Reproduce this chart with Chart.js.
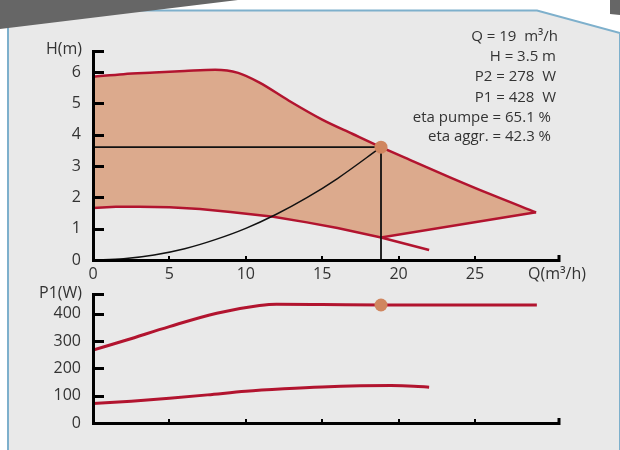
<!DOCTYPE html>
<html lang="en">
<head>
<meta charset="UTF-8">
<title>Pump curve</title>
<style>
  body { margin: 0; background: #fff; }
  #wrap { position: relative; width: 620px; height: 450px; overflow: hidden; }
  #bg, #headChart, #powerChart { position: absolute; left: 0; }
  #bg { top: 0; }
  #headChart { top: 0; }
  #powerChart { top: 271px; }
</style>
</head>
<body>
<div id="wrap">
  <svg id="bg" width="620" height="450">
    <polygon points="8,10.5 537,10.5 620,33 620,452 8,452" fill="#e9e9e9" stroke="#7eb0cc" stroke-width="2"/>
    <polygon points="0,0 238,0 0,29" fill="#666"/>
    <polygon points="610,0 620,0 620,15 610,14" fill="#666"/>
  </svg>
  <canvas id="headChart" width="620" height="285"></canvas>
  <canvas id="powerChart" width="620" height="179"></canvas>
</div>

<script src="https://cdn.jsdelivr.net/npm/chart.js"></script>
<script>
// --- data ---
const flowMax = [0, 2, 4, 6, 8, 9.5, 10.9, 12.8, 15, 17, 18.85, 21, 23.4, 26, 29];
const headMax = [5.85, 5.93, 5.98, 6.03, 6.07, 5.97, 5.66, 5.09, 4.48, 4.02, 3.6, 3.14, 2.63, 2.1, 1.52];

// lower edge of the shaded field (min speed curve, then the limit line to the tip)
const flowMinEdge = [0, 1.5, 3, 5, 7, 9, 11.8, 14, 16, 18.85, 29];
const headMinEdge = [1.66, 1.70, 1.70, 1.68, 1.63, 1.53, 1.38, 1.2, 1.02, 0.72, 1.52];

const flowMinTail = [18.85, 22];
const headMinTail = [0.72, 0.32];

const flowSys = [0, 2, 4, 6, 8, 10, 12, 14, 16, 18.85];
const headSys = [0, 0.04, 0.16, 0.36, 0.65, 1.01, 1.46, 1.99, 2.6, 3.6];

const flowP1Max = [0, 2.2, 5, 8.1, 10.9, 12, 15, 19, 25, 29.05];
const powerP1Max = [267, 304, 353, 402, 430, 435, 434, 432, 432, 432];

const flowP1Min = [0, 2.5, 5, 7.5, 10, 12.5, 15, 17.5, 19.5, 21, 22];
const powerP1Min = [71, 80, 91, 103, 116, 125, 132, 136, 137, 135, 131];

const dutyFlow = 18.85;
const dutyHead = 3.6;
const dutyP1 = 432;

const flowTicks = [0, 5, 10, 15, 20, 25];
const headTicks = [0, 1, 2, 3, 4, 5, 6];
const powerTicks = [0, 100, 200, 300, 400];

const infoLines = [
  'Q = 19  m³/h',
  'H = 3.5 m',
  'P2 = 278  W',
  'P1 = 428  W',
  'eta pumpe = 65.1 %',
  'eta aggr. = 42.3 %'
];

// --- look ---
const RED = '#b2142f';
const FILL = '#dcaa8d';
const DOT = '#d0865f';
const TEXT = '#333';
const FONT = "'Open Sans', sans-serif";

Chart.defaults.font.family = FONT;
Chart.defaults.animation = false;

const pts = (xs, ys) => xs.map((x, i) => ({ x: x, y: ys[i] }));

// axis lines with inward ticks, like the original drawing
const axisMarks = {
  id: 'axisMarks',
  afterDraw(chart) {
    const { ctx, chartArea: a, scales: { x, y } } = chart;
    ctx.save();
    ctx.strokeStyle = '#000';
    ctx.lineWidth = 3;
    ctx.beginPath();
    ctx.moveTo(a.left + 0.5, a.top);
    ctx.lineTo(a.left + 0.5, a.bottom + 2);
    ctx.moveTo(a.left - 1, a.bottom + 0.5);
    ctx.lineTo(a.right + 1, a.bottom + 0.5);
    y.ticks.forEach(t => {
      const py = Math.round(y.getPixelForValue(t.value)) + 0.5;
      ctx.moveTo(a.left - 1, py);
      ctx.lineTo(a.left + 11, py);
    });
    ctx.moveTo(a.left - 1, a.top + 1.5);
    ctx.lineTo(a.left + 11, a.top + 1.5);
    ctx.stroke();

    ctx.lineWidth = 2;
    ctx.beginPath();
    x.ticks.forEach(t => {
      if (t.value === 0) return;
      const px = Math.round(x.getPixelForValue(t.value));
      ctx.moveTo(px, a.bottom - 4);
      ctx.lineTo(px, a.bottom);
    });
    ctx.stroke();
    ctx.lineWidth = 3;
    ctx.beginPath();
    ctx.moveTo(a.right, a.bottom - 5);
    ctx.lineTo(a.right, a.bottom + 2);
    ctx.stroke();
    ctx.restore();
  }
};

const headText = {
  id: 'headText',
  afterDraw(chart) {
    const ctx = chart.ctx;
    ctx.save();
    ctx.fillStyle = TEXT;
    ctx.font = '16px ' + FONT;
    ctx.textBaseline = 'alphabetic';
    ctx.textAlign = 'right';
    ctx.fillText('H(m)', 82, 54);
    ctx.textAlign = 'left';
    ctx.fillText('Q(m³/h)', 528, 279);

    ctx.font = '15px ' + FONT;
    ctx.textAlign = 'right';
    const rightEdge = [558, 556, 556, 556, 551, 551];
    const baseLine = [40.5, 60.5, 81, 101.5, 121.5, 140.5];
    infoLines.forEach((s, i) => ctx.fillText(s, rightEdge[i], baseLine[i]));
    ctx.restore();
  }
};

const powerText = {
  id: 'powerText',
  afterDraw(chart) {
    const ctx = chart.ctx;
    ctx.save();
    ctx.fillStyle = TEXT;
    ctx.font = '16px ' + FONT;
    ctx.textAlign = 'right';
    ctx.fillText('P1(W)', 82, 26.5);
    ctx.restore();
  }
};

function xScale(height, showLabels) {
  return {
    type: 'linear',
    min: 0,
    max: 30.5,
    afterBuildTicks: s => { s.ticks = flowTicks.map(v => ({ value: v })); },
    afterFit: s => { s.height = height; },
    grid: { display: false, drawTicks: false },
    border: { display: false },
    ticks: { display: showLabels, color: TEXT, font: { size: 16 }, padding: 5, maxRotation: 0, autoSkip: false }
  };
}

function yScale(max, tickValues) {
  return {
    type: 'linear',
    min: 0,
    max: max,
    afterBuildTicks: s => { s.ticks = tickValues.map(v => ({ value: v })); },
    afterFit: s => { s.width = 93; },
    grid: { display: false, drawTicks: false },
    border: { display: false },
    ticks: { color: TEXT, font: { size: 16 }, padding: 12, autoSkip: false }
  };
}

const lineStyle = (color, width) => ({
  borderColor: color,
  borderWidth: width,
  pointRadius: 0,
  fill: false
});

new Chart(document.getElementById('headChart'), {
  type: 'scatter',
  data: {
    datasets: [
      {
        data: [{ x: dutyFlow, y: dutyHead }],
        pointRadius: 6.5,
        pointBackgroundColor: DOT,
        pointBorderWidth: 0,
        showLine: false
      },
      { ...lineStyle('#111', 1.8), showLine: true, data: [{ x: 0, y: dutyHead }, { x: dutyFlow, y: dutyHead }] },
      { ...lineStyle('#111', 1.8), showLine: true, data: [{ x: dutyFlow, y: 0 }, { x: dutyFlow, y: dutyHead }] },
      { ...lineStyle('#111', 1.5), showLine: true, cubicInterpolationMode: 'monotone', data: pts(flowSys, headSys) },
      {
        ...lineStyle(RED, 2.5),
        showLine: true,
        cubicInterpolationMode: 'monotone',
        data: pts(flowMax, headMax),
        fill: '+1',
        backgroundColor: FILL
      },
      { ...lineStyle(RED, 2.5), showLine: true, tension: 0, data: pts(flowMinEdge, headMinEdge) },
      { ...lineStyle(RED, 2.5), showLine: true, tension: 0, data: pts(flowMinTail, headMinTail) }
    ]
  },
  options: {
    responsive: false,
    layout: { padding: { top: 50, right: 61, bottom: 0, left: 0 } },
    plugins: {
      legend: { display: false },
      tooltip: { enabled: false },
      filler: { drawTime: 'beforeDatasetsDraw' }
    },
    scales: {
      x: xScale(25, true),
      y: yScale(6.7, headTicks)
    }
  },
  plugins: [axisMarks, headText]
});

new Chart(document.getElementById('powerChart'), {
  type: 'scatter',
  data: {
    datasets: [
      {
        data: [{ x: dutyFlow, y: dutyP1 }],
        pointRadius: 6.5,
        pointBackgroundColor: DOT,
        pointBorderWidth: 0,
        showLine: false
      },
      { ...lineStyle(RED, 3), showLine: true, cubicInterpolationMode: 'monotone', data: pts(flowP1Max, powerP1Max) },
      { ...lineStyle(RED, 3), showLine: true, cubicInterpolationMode: 'monotone', data: pts(flowP1Min, powerP1Min) }
    ]
  },
  options: {
    responsive: false,
    layout: { padding: { top: 22, right: 61, bottom: 0, left: 0 } },
    plugins: {
      legend: { display: false },
      tooltip: { enabled: false }
    },
    scales: {
      x: xScale(27, false),
      y: yScale(476, powerTicks)
    }
  },
  plugins: [axisMarks, powerText]
});
</script>
</body>
</html>
